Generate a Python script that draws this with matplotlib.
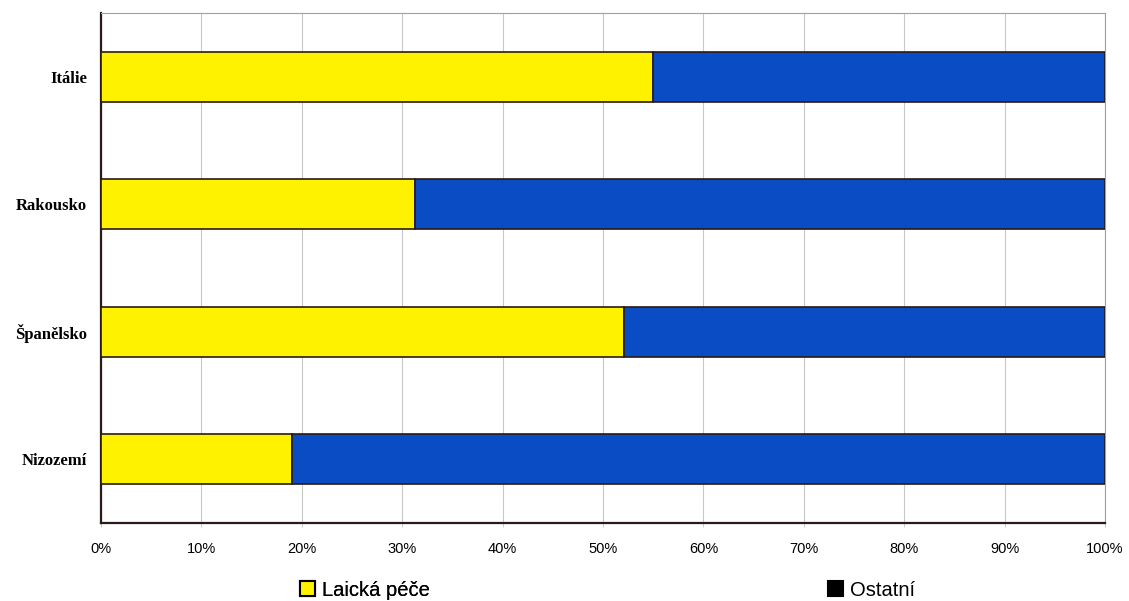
import matplotlib.pyplot as plt
from matplotlib.patches import Patch
from matplotlib.ticker import MultipleLocator, PercentFormatter

countries = ['Itálie', 'Rakousko', 'Španělsko', 'Nizozemí']
laicka_pece = [55, 31.3, 52.1, 19]
ostatni = [45, 68.7, 47.9, 81]

yellow = '#fff200'
blue = '#094cc4'
edge = '#2a1a12'

fig = plt.figure(figsize=(11.29, 6.01), dpi=100)
ax = fig.add_axes([101 / 1129, 78 / 601, 1004 / 1129, 510 / 601])

pos = list(range(len(countries)))[::-1]
ax.barh(pos, laicka_pece, height=0.39, color=yellow, edgecolor=edge, linewidth=1.2, zorder=3)
ax.barh(pos, ostatni, left=laicka_pece, height=0.39, color=blue, edgecolor=edge,
        linewidth=1.2, zorder=3)

ax.set_xlim(0, 100)
ax.set_ylim(-0.5, len(countries) - 0.5)
ax.xaxis.set_major_locator(MultipleLocator(10))
ax.xaxis.set_major_formatter(PercentFormatter(decimals=0))
ax.set_yticks(pos)
ax.set_yticklabels(countries, fontfamily='Liberation Serif', fontweight='bold', fontsize=12)
for lbl in ax.get_xticklabels():
    lbl.set_fontfamily('Liberation Sans')
    lbl.set_fontsize(10.5)
ax.tick_params(axis='x', length=3, width=0.6, color='#c8c0c0', pad=11)
ax.tick_params(axis='y', length=0, pad=10)

ax.grid(axis='x', color='#c8c8c8', linewidth=0.8, zorder=0)
for side in ['top', 'right']:
    ax.spines[side].set_color('#a0a0a0')
    ax.spines[side].set_linewidth(0.8)
for side in ['left', 'bottom']:
    ax.spines[side].set_color('#2a1a1a')
    ax.spines[side].set_linewidth(1.6)

leg_kw = dict(frameon=False, handlelength=0.75, handleheight=0.75, handletextpad=0.35,
              prop={'family': 'Liberation Sans', 'size': 14.5})
leg1 = fig.legend(handles=[Patch(facecolor=yellow, edgecolor='black', linewidth=1.5)],
                  labels=['Laická péče'], loc='center left', bbox_to_anchor=(282 / 1129, 11 / 601),
                  **leg_kw)
fig.legend(handles=[Patch(facecolor='black', edgecolor='black', linewidth=1.5)],
           labels=['Ostatní'], loc='center left', bbox_to_anchor=(810 / 1129, 11 / 601), **leg_kw)
fig.add_artist(leg1)

fig.savefig('out.png', dpi=100)
